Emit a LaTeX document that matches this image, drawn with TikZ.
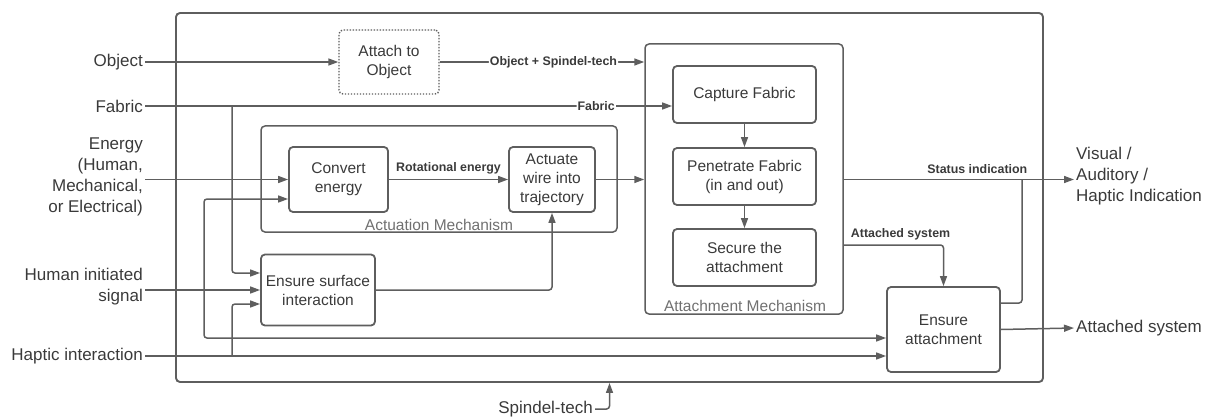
\documentclass[tikz,border=0pt]{standalone}
\usepackage{fontspec}
\setmainfont{Liberation Sans}
\usetikzlibrary{arrows.meta,calc}
\definecolor{ln}{HTML}{5E5E5E}
\definecolor{tx}{HTML}{3A3A3A}
\definecolor{lt}{HTML}{707070}

\begin{document}
\begin{tikzpicture}[x=1pt,y=-1pt,
  conn/.style={draw=ln, line width=1.5pt, rounded corners=3pt},
  arr/.style={conn, -{Triangle[length=10pt,width=7pt]}},
  blk/.style={draw=ln, line width=1.8pt, rounded corners=4pt, align=center,
    text=tx, font=\fontsize{15.5}{19}\selectfont, inner sep=0pt},
  dotbox/.style={blk, line width=1.4pt, dash pattern=on 1.4pt off 1.6pt},
  grp/.style={draw=ln, line width=1.5pt, rounded corners=4pt, inner sep=0pt},
  grplabel/.style={text=lt, font=\fontsize{15.5}{19}\selectfont, inner sep=0pt},
  ext/.style={text=tx, font=\fontsize{17}{21}\selectfont, inner sep=2pt},
  tag/.style={text=tx, font=\bfseries\fontsize{12.4}{15}\selectfont, inner sep=1pt},
  ontag/.style={tag, fill=white}
]
\useasboundingbox (0,0) rectangle (1207,417);

% system boundary and the two mechanism groups
\node[grp, line width=1.9pt, minimum width=867pt, minimum height=369pt] (frame) at (609.5,197.5) {};
\node[grp, minimum width=356pt, minimum height=106pt] (actmech) at (439,179) {};
\node[grp, minimum width=198pt, minimum height=270pt] (attmech) at (744,179) {};
\node[grplabel] (actlbl) at ($(actmech.south)+(0,-8)$) {Actuation Mechanism};
\node[grplabel] (attlbl) at ($(attmech.south)+(1,-9)$) {Attachment Mechanism};

% function blocks
\node[dotbox, minimum width=100pt, minimum height=64pt] (attach) at (389,62) {Attach to\\Object};
\node[blk, minimum width=99pt, minimum height=65pt] (conv) at (338.5,179.5) {Convert\\energy};
\node[blk, minimum width=86pt, minimum height=65pt] (act) at (552,179.5) {Actuate\\wire into\\trajectory};
\node[blk, minimum width=114pt, minimum height=71pt] (esi) at (318,290) {Ensure surface\\interaction};
\node[blk, minimum width=143pt, minimum height=57pt] (cap) at (744.5,94.5) {Capture Fabric};
\node[blk, minimum width=143pt, minimum height=57pt] (pen) at (744.5,176.5) {Penetrate Fabric\\(in and out)};
\node[blk, minimum width=143pt, minimum height=57pt] (sec) at (744.5,257.5) {Secure the\\attachment};
\node[blk, minimum width=113pt, minimum height=85pt] (ens) at (943.5,329.5) {Ensure\\attachment};

% external inputs and outputs
\node[ext, anchor=east] (obj) at (145,62) {Object};
\node[ext, anchor=east] (fab) at (145,106) {Fabric};
\node[ext, anchor=east, align=right] (energy) at (145,177) {Energy\\(Human,\\Mechanical,\\or Electrical)};
\node[ext, anchor=east, align=right] (human) at (145,286.5) {Human initiated\\signal};
\node[ext, anchor=east] (haptic) at (145,356) {Haptic interaction};
\node[ext, anchor=west, align=left] (visual) at (1074,176.5) {Visual /\\Auditory /\\Haptic Indication};
\node[ext, anchor=west] (attsys) at (1074,328) {Attached system};
\node[ext, anchor=east] (spindel) at (595,409) {Spindel-tech};

% branch points
\coordinate (jf) at (232,106);
\coordinate (jh) at (204,290);
\coordinate (jk) at (232,356);
\coordinate (jst) at (1022,179.5);

% object path
\draw[arr] (obj.east) -- (attach.west);
\draw[arr] (attach.east) -- (attmech.west |- attach.east)
  node[ontag, pos=0.556] {Object + Spindel-tech};

% fabric path
\draw[arr] (fab.east) -- (cap.west |- fab.east) node[ontag, pos=0.856] {Fabric};
\draw[arr] (jf) |- ($(esi.west)+(0,-17)$);

% energy and signals
\draw[arr] (energy.east |- conv.west) -- (conv.west);
\draw[arr] (human.east |- esi.west) -- (esi.west);
\draw[arr] (jh) |- ($(conv.west)+(0,19.5)$);
\draw[arr] (jh) |- ($(ens.west)+(0,8.5)$);
\draw[arr] (haptic.east) -- (ens.west |- haptic.east);
\draw[arr] (jk) |- ($(esi.west)+(0,14)$);

% actuation
\draw[arr] (conv.east) -- (act.west)
  node[tag, pos=0.5, above, yshift=4pt] {Rotational energy};
\draw[arr] (esi.east) -| (act.south);
\draw[arr] (act.east) -- (attmech.west |- act.east);

% attachment sequence
\draw[arr] (cap.south) -- (pen.north);
\draw[arr] (pen.south) -- (sec.north);

% outputs
\draw[arr] (attmech.east |- act.east) -- (visual.west |- act.east)
  node[tag, pos=0.58, above, yshift=4pt] {Status indication};
\draw[conn] ($(ens.east)+(0,-26.5)$) -| (jst);
\draw[arr] ($(attmech.east)+(0,66)$) coordinate (as0) -| (ens.north);
\node[tag, anchor=south west] (astag) at ($(as0)+(6,-4)$) {Attached system};
\draw[arr] (ens.east) -- (attsys.west);

% spindel-tech feed into the system
\draw[arr] (spindel.east) -| (frame.south);
\end{tikzpicture}
\end{document}
